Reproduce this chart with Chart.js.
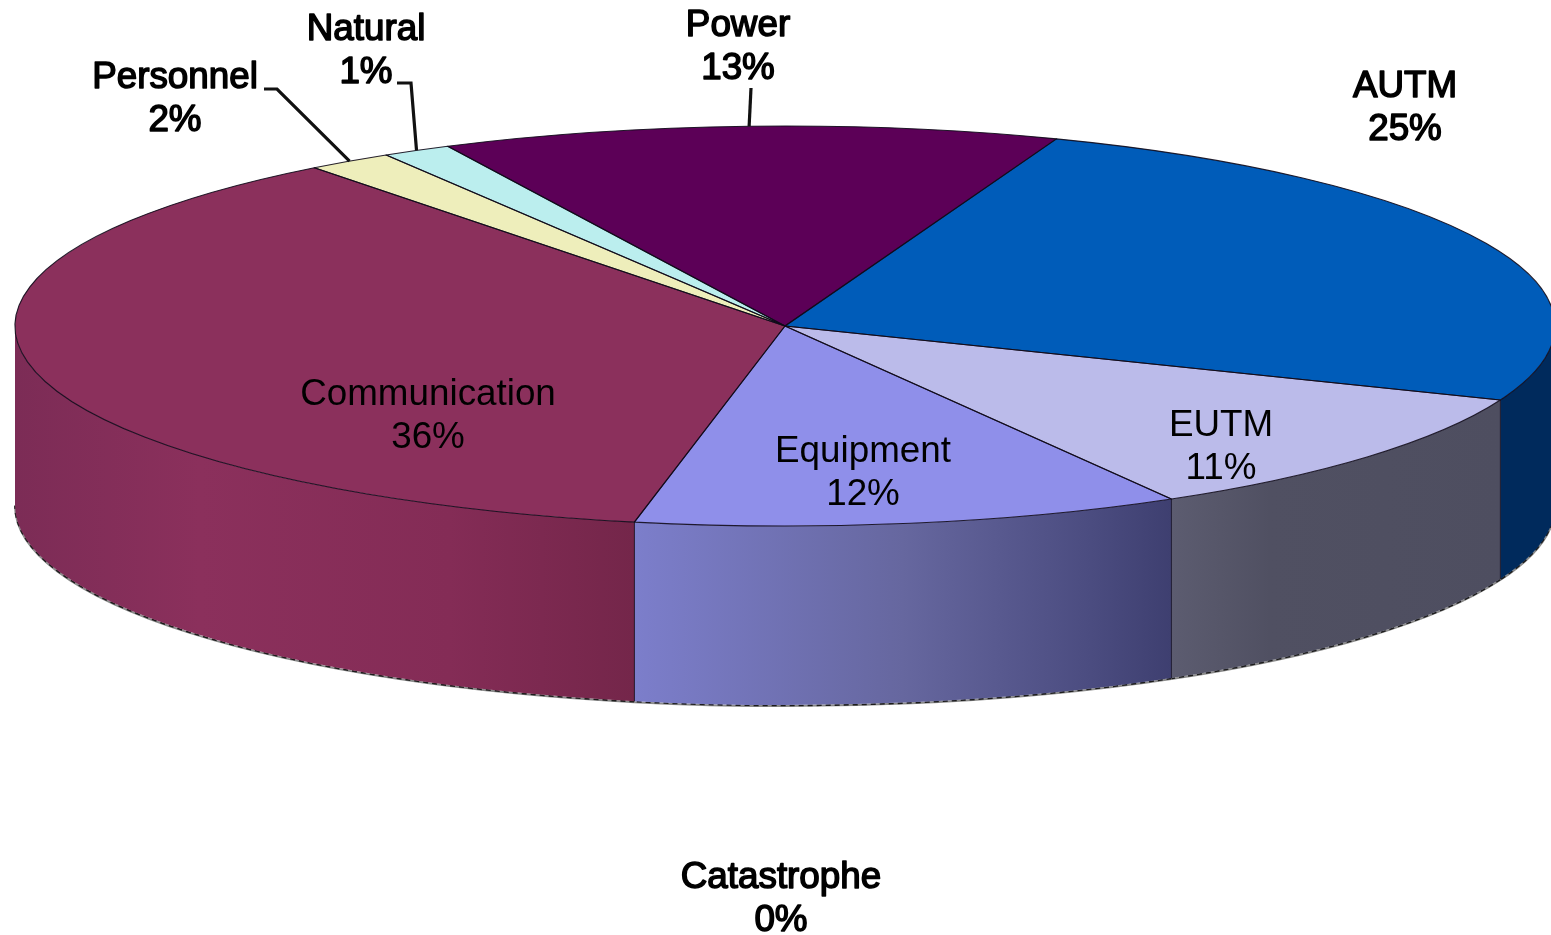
<!DOCTYPE html>
<html>
<head>
<meta charset="utf-8">
<style>html,body{margin:0;padding:0;background:#fff;overflow:hidden}canvas{display:block}</style>
<script src="https://cdn.jsdelivr.net/npm/chart.js@4/dist/chart.umd.min.js"></script>
</head>
<body>
<canvas id="c" width="1551" height="935"></canvas>
<script>
const categories = ['AUTM','EUTM','Equipment','Communication','Personnel','Natural','Power','Catastrophe'];
const shares = [25.3,10.6,11.5,36.4,1.8,1.45,12.95,0];
const topColors = ['#005cb9','#bbbbea','#8f8fea','#8b305c','#eeeebb','#bbeeee','#5c0057','#ffffff'];
const wallStops = [
  [[0,'#002a5c'],[1,'#002a5c']],
  [[0,'#5c5c70'],[0.3,'#505062'],[1,'#4e4e60']],
  [[0,'#7c7ecb'],[0.5,'#66679f'],[0.85,'#4b4c80'],[1,'#3e3f70']],
  [[0,'#7c2c56'],[0.3,'#8b305c'],[0.7,'#842c56'],[1,'#74264a']],
  [[0,'#bbbb99'],[1,'#bbbb99']],
  [[0,'#99bbbb'],[1,'#99bbbb']],
  [[0,'#3c0039'],[1,'#3c0039']],
  [[0,'#fff'],[1,'#fff']]
];
const labelCenters = {
  AUTM:[1405,87], EUTM:[1221,426], Equipment:[863,452], Communication:[428,395],
  Personnel:[175,78], Natural:[366,30], Power:[738,26], Catastrophe:[781,878]
};
const heavyLabels = ['AUTM','Personnel','Natural','Power','Catastrophe'];
const leaderStarts = {
  Personnel:[[264,89],[277,89]],
  Natural:[[397,83],[411,83]],
  Power:[[751,88]]
};
const TILT = 200/770, DEPTH = 179, RADIUS = 770;

function frontSpans(a,b){
  const T=Math.PI*2, out=[];
  for(let k=-1;k<=1;k++){
    const lo=Math.max(a,k*T), hi=Math.min(b,k*T+Math.PI);
    if(hi>lo) out.push([lo,hi]);
  }
  return out;
}
const pie3d = {
  id:'pie3d',
  beforeDatasetsDraw(chart){
    const ctx=chart.ctx, arcs=chart.getDatasetMeta(0).data;
    arcs.forEach((arc,i)=>{
      if(arc.endAngle-arc.startAngle<1e-6) return;
      const rx=arc.outerRadius, ry=rx*TILT;
      frontSpans(arc.startAngle,arc.endAngle).forEach(([a0,a1])=>{
        const x1=arc.x+rx*Math.cos(a0), x0=arc.x+rx*Math.cos(a1);
        const g=ctx.createLinearGradient(x0,0,x1,0);
        wallStops[i].forEach(s=>g.addColorStop(s[0],s[1]));
        // dithered contact shadow under the wall
        ctx.save();
        ctx.beginPath();
        ctx.ellipse(arc.x,arc.y+DEPTH+1,rx,ry,0,a0,a1);
        ctx.strokeStyle='#8a8a8a';ctx.lineWidth=2;ctx.stroke();
        ctx.beginPath();
        ctx.ellipse(arc.x,arc.y+DEPTH+0.5,rx,ry,0,a0,a1);
        ctx.setLineDash([5,4]);ctx.strokeStyle='#1c1c1c';ctx.lineWidth=1.6;ctx.stroke();
        ctx.restore();
        ctx.beginPath();
        ctx.ellipse(arc.x,arc.y,rx,ry,0,a0,a1);
        ctx.ellipse(arc.x,arc.y+DEPTH,rx,ry,0,a1,a0,true);
        ctx.closePath();
        ctx.fillStyle=g;ctx.fill();
        ctx.strokeStyle='rgba(25,20,40,.75)';ctx.lineWidth=1;
        ctx.beginPath();
        [a0,a1].forEach(a=>{
          if(Math.abs(Math.sin(a))<0.01) return;
          const x=arc.x+rx*Math.cos(a), y=arc.y+ry*Math.sin(a);
          ctx.moveTo(x,y);ctx.lineTo(x,y+DEPTH);
        });
        ctx.stroke();
      });
    });
  },
  beforeDatasetDraw(chart){
    const ctx=chart.ctx, a=chart.getDatasetMeta(0).data[0];
    ctx.save();
    ctx.translate(a.x,a.y);ctx.scale(1,TILT);ctx.translate(-a.x,-a.y);
  },
  afterDatasetDraw(chart){chart.ctx.restore();},
  afterDatasetsDraw(chart){
    const ctx=chart.ctx, arcs=chart.getDatasetMeta(0).data;
    ctx.save();
    // slice outlines, stroked at a uniform width over the tilted top face
    arcs.forEach(arc=>{
      if(arc.endAngle-arc.startAngle<1e-6) return;
      const rx=arc.outerRadius, ry=rx*TILT;
      ctx.beginPath();
      ctx.moveTo(arc.x,arc.y);
      ctx.ellipse(arc.x,arc.y,rx,ry,0,arc.startAngle,arc.endAngle);
      ctx.closePath();
      ctx.strokeStyle='rgba(15,10,25,.9)';ctx.lineWidth=1.1;ctx.lineJoin='round';ctx.stroke();
    });
    // leader lines end on the rim at each slice's mid-angle
    categories.forEach((name,i)=>{
      const starts=leaderStarts[name]; if(!starts) return;
      const arc=arcs[i], m=(arc.startAngle+arc.endAngle)/2, rx=arc.outerRadius;
      const ex=arc.x+rx*Math.cos(m), ey=arc.y+rx*TILT*Math.sin(m);
      ctx.beginPath();
      starts.forEach((p,k)=>k?ctx.lineTo(p[0],p[1]):ctx.moveTo(p[0],p[1]));
      ctx.lineTo(ex,ey);
      ctx.strokeStyle='#111';ctx.lineWidth=3.2;ctx.lineJoin='miter';ctx.stroke();
    });
    // data labels
    const total=shares.reduce((s,v)=>s+v,0);
    ctx.textAlign='center';ctx.textBaseline='middle';
    ctx.font='36.8px "Liberation Sans", Arial, sans-serif';
    categories.forEach((name,i)=>{
      const [x,y]=labelCenters[name];
      const lines=[name,Math.round(shares[i]/total*100)+'%'];
      lines.forEach((t,k)=>{
        const yy=y+k*43;
        ctx.fillStyle='#000';ctx.fillText(t,x,yy);
        if(heavyLabels.includes(name)){ctx.strokeStyle='#000';ctx.lineWidth=1.5;ctx.lineJoin='round';ctx.strokeText(t,x,yy);}
      });
    });
    ctx.restore();
  }
};
new Chart(document.getElementById('c'),{
  type:'pie',
  data:{labels:categories,datasets:[{data:shares,backgroundColor:topColors,borderWidth:0,clip:false,radius:RADIUS}]},
  options:{
    responsive:false,animation:false,devicePixelRatio:1,rotation:20.64,
    layout:{padding:{left:19,right:0,top:0,bottom:283}},
    events:[],
    plugins:{legend:{display:false},tooltip:{enabled:false},title:{display:false}}
  },
  plugins:[pie3d]
});
</script>
</body>
</html>
